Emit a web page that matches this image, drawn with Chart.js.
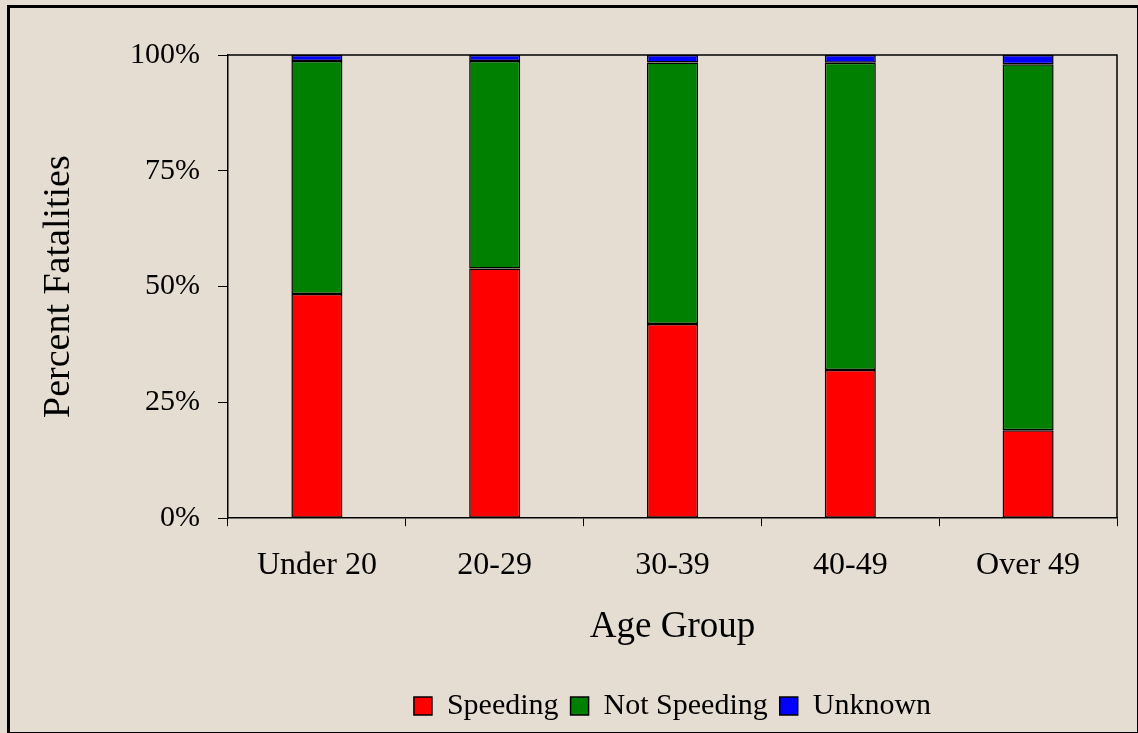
<!DOCTYPE html>
<html>
<head>
<meta charset="utf-8">
<script src="https://cdn.jsdelivr.net/npm/chart.js@4/dist/chart.umd.min.js"></script>
<style>
    html, body { margin: 0; padding: 0; background: #e5ddd2; }
    #wrap { position: relative; width: 1138px; height: 733px; overflow: hidden; background: #e5ddd2; }
    #frame {
        position: absolute; left: 7px; top: 5px; right: 0; bottom: 0;
        border-left: 3px solid #000; border-top: 3px solid #000;
        border-right: 1px solid #000; border-bottom: 1px solid #000;
        pointer-events: none;
    }
    canvas { position: absolute; left: 0; top: 0; }
</style>
</head>
<body>
<div id="wrap">
    <canvas id="chart" width="1138" height="733"></canvas>
    <div id="frame"></div>
</div>
<script>
; (function () {
    'use strict'

    // ---------------------------------------------------------------------------
    // DATA (percent of fatalities per age group)
    // ---------------------------------------------------------------------------

    const AGE_GROUPS = ['Under 20', '20-29', '30-39', '40-49', 'Over 49']
    const SPEEDING = [48.4, 53.9, 41.9, 32.0, 19.0]
    const NOT_SPEEDING = [50.3, 44.8, 56.5, 66.3, 79.0]
    const UNKNOWN = [1.3, 1.3, 1.6, 1.7, 2.0]
    const Y_TICKS = [0, 25, 50, 75, 100]

    const SERIF = "'Liberation Serif', 'Times New Roman', serif"

    // ---------------------------------------------------------------------------
    // PLOT FRAME (top + right edge of the plot area)
    // ---------------------------------------------------------------------------

    const plotFrame = {
        id: 'plotFrame',
        afterDatasetsDraw(chart) {
            const { ctx, chartArea } = chart
            ctx.save()
            ctx.strokeStyle = '#000'
            ctx.lineWidth = 1.5
            ctx.beginPath()
            ctx.moveTo(chartArea.left, chartArea.top)
            ctx.lineTo(chartArea.right, chartArea.top)
            ctx.lineTo(chartArea.right, chartArea.bottom)
            ctx.stroke()
            ctx.restore()
        },
    }

    function seg(label, data, color) {
        return {
            label,
            data,
            backgroundColor: color,
            borderColor: '#000',
            borderWidth: 1.5,
            borderSkipped: false,
            barPercentage: 0.287,
            categoryPercentage: 1,
        }
    }

    new Chart(document.getElementById('chart'), {
        type: 'bar',
        data: {
            labels: AGE_GROUPS,
            datasets: [
                seg('Speeding', SPEEDING, '#ff0000'),
                seg('Not Speeding', NOT_SPEEDING, '#008000'),
                seg('Unknown', UNKNOWN, '#0000ff'),
            ],
        },
        options: {
            responsive: false,
            devicePixelRatio: 1,
            animation: false,
            layout: { padding: { top: 55, right: 21, left: 30, bottom: 2 } },
            plugins: {
                tooltip: { enabled: false },
                legend: {
                    position: 'bottom',
                    fullSize: false,
                    labels: {
                        color: '#000',
                        font: { family: SERIF, size: 30 },
                        boxWidth: 18,
                        boxHeight: 18,
                        padding: 12,
                    },
                },
            },
            scales: {
                x: {
                    stacked: true,
                    grid: {
                        offset: true,
                        drawOnChartArea: false,
                        drawTicks: true,
                        tickLength: 8,
                        color: '#000',
                    },
                    border: { color: '#000', width: 1.5 },
                    ticks: {
                        color: '#000',
                        font: { family: SERIF, size: 32 },
                        padding: 20,
                    },
                    title: {
                        display: true,
                        text: 'Age Group',
                        color: '#000',
                        font: { family: SERIF, size: 37 },
                        padding: { top: 0, bottom: 30 },
                    },
                },
                y: {
                    stacked: true,
                    min: 0,
                    max: 100,
                    afterFit(scale) { scale.width = 198 },
                    afterBuildTicks(scale) { scale.ticks = Y_TICKS.map(v => ({ value: v })) },
                    grid: {
                        drawOnChartArea: false,
                        drawTicks: true,
                        tickLength: 10,
                        color: '#000',
                    },
                    border: { color: '#000', width: 1.5 },
                    ticks: {
                        color: '#000',
                        font: { family: SERIF, size: 30 },
                        padding: 18,
                        callback: v => v + '%',
                    },
                    title: {
                        display: true,
                        text: 'Percent Fatalities',
                        color: '#000',
                        font: { family: SERIF, size: 38 },
                        padding: { top: 6, bottom: 0 },
                    },
                },
            },
        },
        plugins: [plotFrame],
    })
})()
</script>
</body>
</html>
